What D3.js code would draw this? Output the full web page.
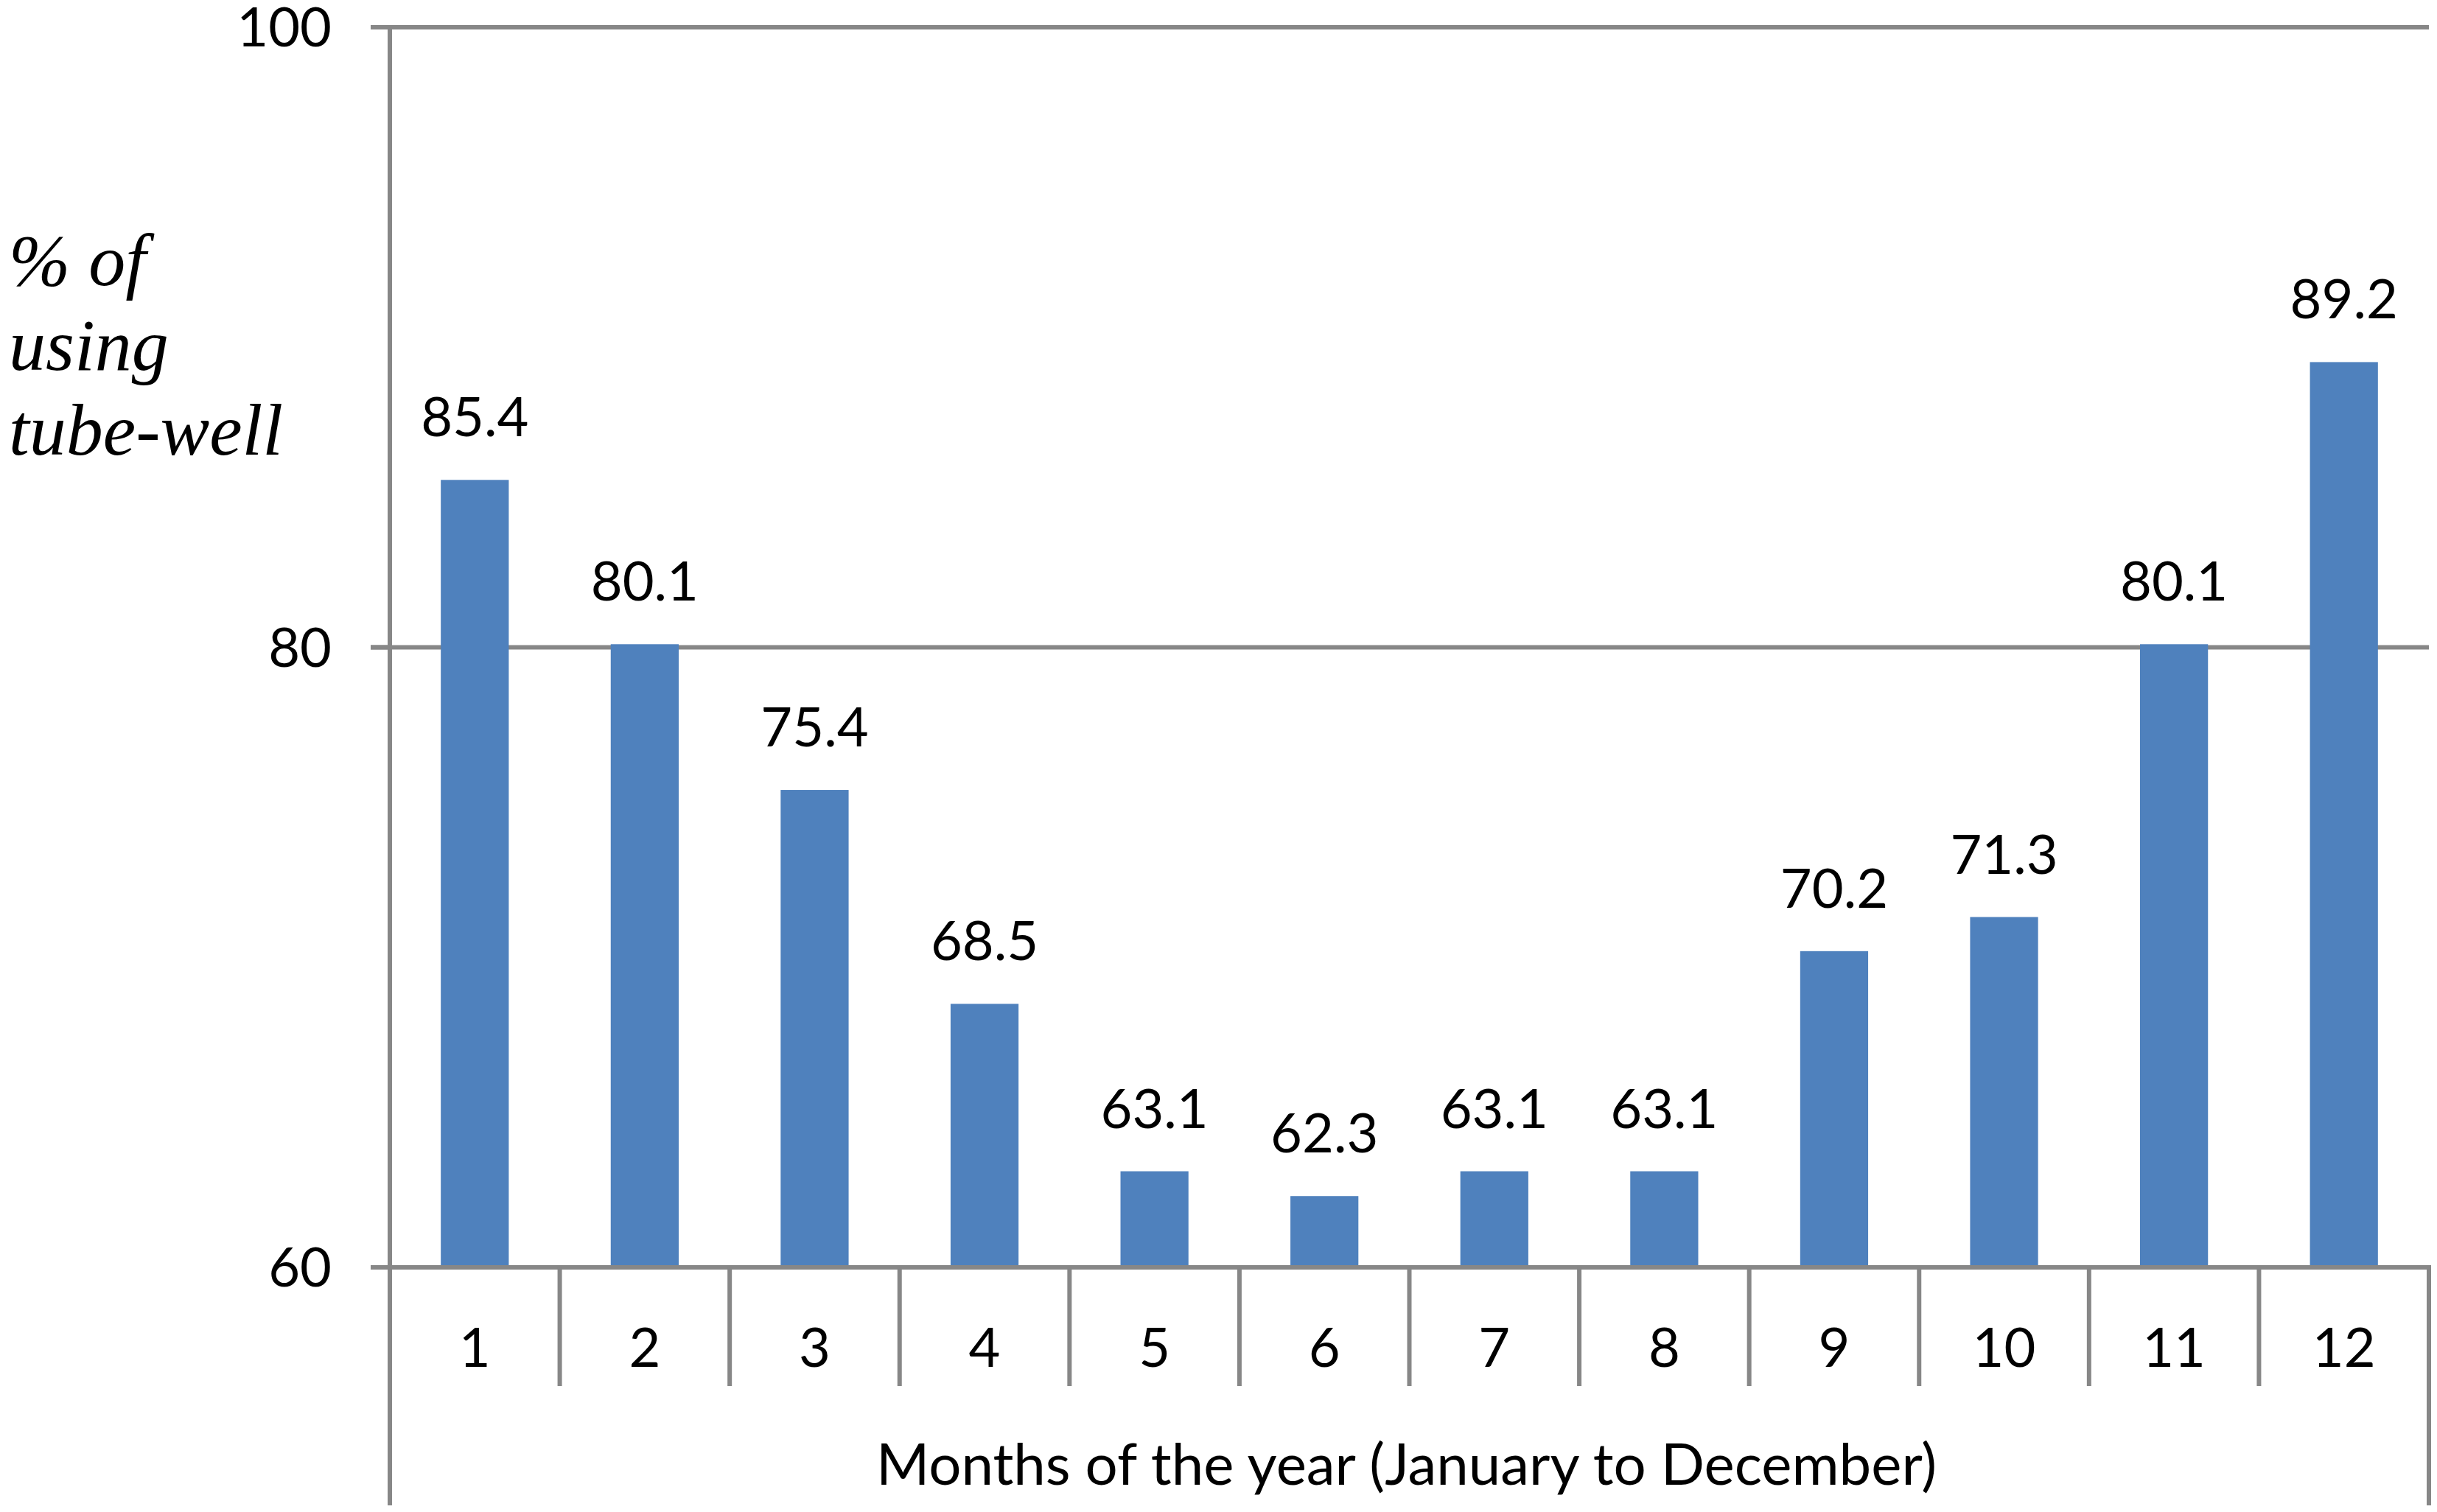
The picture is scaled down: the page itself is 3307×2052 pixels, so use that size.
<!DOCTYPE html>
<html>
<head>
<meta charset="utf-8">
<script src="https://cdn.jsdelivr.net/npm/d3@7"></script>
<style>
  html, body { margin: 0; padding: 0; background: #ffffff; }
  svg { display: block; }
</style>
</head>
<body>
<script>
// ---- data ----
const months = ["1","2","3","4","5","6","7","8","9","10","11","12"];
const values = [85.4, 80.1, 75.4, 68.5, 63.1, 62.3, 63.1, 63.1, 70.2, 71.3, 80.1, 89.2];
const yTicks = [60, 80, 100];
const yTitleLines = ["% of", "using", "tube-well"];
const xTitle = "Months of the year (January to December)";

// ---- layout ----
const W = 3307, H = 2052;
const plotLeft = 529, plotRight = 3296, plotTop = 37, plotBottom = 1720;
const axisColor = "#878787";
const barColor = "#4F81BD";
const font = "Lato, 'Open Sans', sans-serif";

const svg = d3.select("body").append("svg").attr("width", W).attr("height", H);

const x = d3.scaleBand().domain(months).range([plotLeft, plotRight])
  .paddingInner(0.6).paddingOuter(0.3);
const xCat = d3.scaleBand().domain(months).range([plotLeft, plotRight]).padding(0);
const y = d3.scaleLinear().domain([60, 100]).range([plotBottom, plotTop]);

// gridlines (80, 100)
svg.append("g").selectAll("line").data(yTicks.filter(d => d > 60)).join("line")
  .attr("x1", plotLeft - 26).attr("x2", plotRight)
  .attr("y1", d => y(d)).attr("y2", d => y(d))
  .attr("stroke", axisColor).attr("stroke-width", 6);

// bars
svg.append("g").selectAll("rect").data(values).join("rect")
  .attr("x", (d, i) => x(months[i]))
  .attr("width", x.bandwidth())
  .attr("y", d => y(d))
  .attr("height", d => y(60) - y(d))
  .attr("fill", barColor);

// y axis line extends down through the category area
svg.append("line").attr("x1", plotLeft).attr("x2", plotLeft)
  .attr("y1", plotTop - 3).attr("y2", 2043)
  .attr("stroke", axisColor).attr("stroke-width", 6);

// y tick marks
svg.append("g").selectAll("line").data(yTicks).join("line")
  .attr("x1", plotLeft - 26).attr("x2", plotLeft)
  .attr("y1", d => y(d)).attr("y2", d => y(d))
  .attr("stroke", axisColor).attr("stroke-width", 6);

// category axis baseline
svg.append("line").attr("x1", plotLeft - 26).attr("x2", plotRight + 3)
  .attr("y1", plotBottom).attr("y2", plotBottom)
  .attr("stroke", axisColor).attr("stroke-width", 6);

// category dividers
svg.append("g").selectAll("line").data(months.slice(1)).join("line")
  .attr("x1", d => xCat(d)).attr("x2", d => xCat(d))
  .attr("y1", plotBottom).attr("y2", 1881)
  .attr("stroke", axisColor).attr("stroke-width", 6);
// right outer divider (full height, second level)
svg.append("line").attr("x1", plotRight).attr("x2", plotRight)
  .attr("y1", plotBottom).attr("y2", 2043)
  .attr("stroke", axisColor).attr("stroke-width", 6);

// y tick labels
svg.append("g").selectAll("text").data(yTicks).join("text")
  .attr("x", 450).attr("y", d => y(d) + 26)
  .attr("text-anchor", "end")
  .attr("font-family", font).attr("font-size", 74).attr("fill", "#000")
  .text(d => d);

// category labels
svg.append("g").selectAll("text").data(months).join("text")
  .attr("x", d => xCat(d) + xCat.bandwidth() / 2).attr("y", 1855)
  .attr("text-anchor", "middle")
  .attr("font-family", font).attr("font-size", 74).attr("fill", "#000")
  .text(d => d);

// data labels
svg.append("g").selectAll("text").data(values).join("text")
  .attr("x", (d, i) => x(months[i]) + x.bandwidth() / 2)
  .attr("y", d => y(d) - 59)
  .attr("text-anchor", "middle")
  .attr("font-family", font).attr("font-size", 74).attr("fill", "#000")
  .text(d => d.toFixed(1));

// x title
svg.append("text")
  .attr("x", (plotLeft + plotRight) / 2 - 4).attr("y", 2015)
  .attr("text-anchor", "middle")
  .attr("font-family", font).attr("font-size", 78).attr("fill", "#000")
  .text(xTitle);

// y title (italic serif, three lines)
svg.append("g").selectAll("text").data(yTitleLines).join("text")
  .attr("x", 12).attr("y", (d, i) => 387 + i * 115)
  .attr("font-family", "'Liberation Serif', 'DejaVu Serif', serif")
  .attr("font-style", "italic").attr("font-size", 100).attr("fill", "#000")
  .text(d => d);
</script>
</body>
</html>
